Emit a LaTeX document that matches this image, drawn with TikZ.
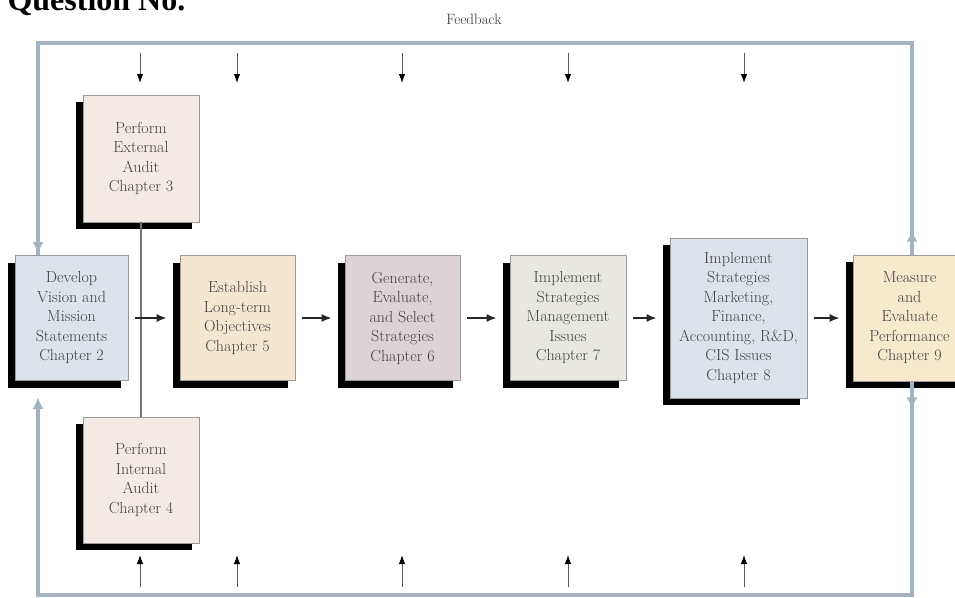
\documentclass[tikz,border=0pt]{standalone}
\usepackage{xcolor}
\usepackage{fontspec}
\usepackage{tikz}
\usetikzlibrary{arrows.meta,shadows}
\newfontfamily\qfont{Liberation Serif}
\newcommand{\boxfont}{\fontsize{16}{19.5}\selectfont}
\definecolor{fbblue}{HTML}{A3B3C2}
\definecolor{devfill}{HTML}{DCE3EA}
\definecolor{auditfill}{HTML}{F3EAE6}
\definecolor{estfill}{HTML}{F4E7CF}
\definecolor{genfill}{HTML}{DCD3D7}
\definecolor{implfill}{HTML}{E8E8E0}
\definecolor{measfill}{HTML}{F6E9CC}
\tikzset{
  box/.style={draw=gray!80, line width=0.8pt, text=black!75, align=center,
    inner sep=2pt, font=\boxfont,
    drop shadow={shadow xshift=-7pt, shadow yshift=-7pt, fill=black, opacity=1}},
  flow/.style={-{Latex[length=10pt,width=8pt]}, line width=1.6pt, black!85,
    shorten <=7pt, shorten >=13pt},
  link/.style={line width=1.6pt, gray!90!black},
  fb/.style={line width=4pt, fbblue},
  fbtip/.style={fb, -{Latex[length=12pt,width=11pt]}},
  feed/.style={line width=1pt, gray!70!black, -{Latex[length=9pt,width=6.5pt,black]}}
}
\begin{document}
\begin{tikzpicture}[x=1pt, y=-1pt]
\useasboundingbox (0,0) rectangle (955,597);
\node[anchor=base west, font=\qfont\bfseries\fontsize{32}{36}\selectfont] (qno) at (4,10) {Question No.};
\node[text=black!80, font=\fontsize{15}{18}\selectfont] (fbtext) at (474,19) {Feedback};

% feedback frame corners
\coordinate (fbtl) at (38,43);
\coordinate (fbtr) at (912,43);
\coordinate (fbbl) at (38,595);
\coordinate (fbbr) at (912,595);

% boxes
\node[box, fill=devfill, minimum width=113pt, minimum height=125pt] (dev) at (71.5,318)
  {Develop\\Vision and\\Mission\\Statements\\Chapter 2};
\node[box, fill=auditfill, minimum width=116pt, minimum height=127pt] (ext) at (141,158.5)
  {Perform\\External\\Audit\\Chapter 3};
\node[box, fill=auditfill, minimum width=116pt, minimum height=126pt] (int) at (141,480)
  {Perform\\Internal\\Audit\\Chapter 4};
\node[box, fill=estfill, minimum width=115pt, minimum height=125pt] (est) at (237.5,318)
  {Establish\\Long-term\\Objectives\\Chapter 5};
\node[box, fill=genfill, minimum width=115pt, minimum height=125pt] (gen) at (402.5,318)
  {Generate,\\Evaluate,\\and Select\\Strategies\\Chapter 6};
\node[box, fill=implfill, minimum width=116pt, minimum height=125pt] (impl) at (568,318)
  {Implement\\Strategies\\Management\\Issues\\Chapter 7};
\node[box, fill=devfill, minimum width=137pt, minimum height=160pt] (mkt) at (738.5,318)
  {Implement\\Strategies\\Marketing,\\Finance,\\Accounting, R\&D,\\CIS Issues\\Chapter 8};
\node[box, fill=measfill, minimum width=113pt, minimum height=126pt] (meas) at (909.5,318)
  {Measure\\and\\Evaluate\\Performance\\Chapter 9};

% audits feed the main line
\draw[link] (ext) -- (int);

% main flow
\draw[flow] (dev) -- (est);
\draw[flow] (est) -- (gen);
\draw[flow] (gen) -- (impl);
\draw[flow] (impl) -- (mkt);
\draw[flow] (mkt) -- (meas);

% feedback loop
\draw[fb] (meas.north -| fbtr) -- (fbtr) -- (fbtl) -- (dev.north -| fbtl);
\draw[fbtip, shorten >=1pt] (fbtl |- 0,230) -- (dev.north -| fbtl);
\draw[fbtip] (meas.north -| fbtr) -- ++(0,-25);
\draw[fb] (meas.south -| fbbr) -- (fbbr) -- (fbbl) -- (fbbl |- 0,410);
\draw[fbtip] (fbbl |- 0,420) -- (fbbl |- 0,397);
\draw[fbtip] (meas.south -| fbbr) -- ++(0,28);

% small feedback arrows
\foreach \x [count=\i] in {140,237,402,568,744} {
  \coordinate (top\i) at (\x,53);
  \coordinate (topend\i) at (\x,83);
  \coordinate (bot\i) at (\x,587);
  \coordinate (botend\i) at (\x,555);
  \draw[feed] (top\i) -- (topend\i);
  \draw[feed] (bot\i) -- (botend\i);
}
\end{tikzpicture}
\end{document}
